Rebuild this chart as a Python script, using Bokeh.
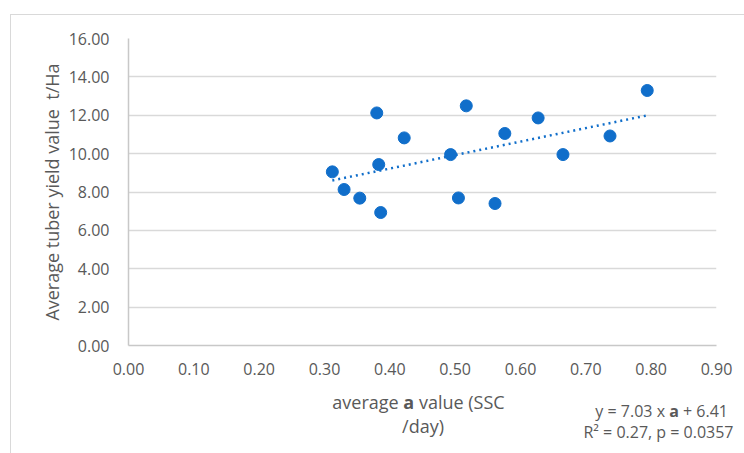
from bokeh.plotting import figure
from bokeh.layouts import column
from bokeh.models import Range1d, FixedTicker, NumeralTickFormatter
from bokeh.core.properties import value
from bokeh.embed import file_html
from bokeh.resources import INLINE

# ---- data ----
a_values = [0.312, 0.330, 0.354, 0.380, 0.383, 0.386, 0.422, 0.493,
            0.505, 0.517, 0.561, 0.576, 0.627, 0.665, 0.737, 0.794]
yield_values = [9.05, 8.13, 7.68, 12.12, 9.43, 6.93, 10.82, 9.95,
                7.69, 12.49, 7.40, 11.05, 11.86, 9.95, 10.92, 13.29]
slope = 7.03
intercept = 6.41
x_ticks = [0.0, 0.1, 0.2, 0.3, 0.4, 0.5, 0.6, 0.7, 0.8, 0.9]
y_ticks = [0, 2, 4, 6, 8, 10, 12, 14, 16]
y_title = "Average tuber yield value\u00a0 t/Ha"
x_title_parts = ["average", "a", "value (SSC", "/day)"]
eq_parts = ["y = 7.03 x", "a", "+ 6.41", "R\u00b2 = 0.27, p = 0.0357"]

FONT = "Open Sans"
GREY = "#595959"
BLUE = "#106ECA"

# ---- main chart ----
p = figure(width=733, height=370, output_backend="svg", toolbar_location=None,
           x_range=Range1d(0, 0.9), y_range=Range1d(0, 16),
           min_border_left=117, min_border_right=28, min_border_top=23,
           min_border_bottom=40)
p.frame_align = False
p.outline_line_color = None
p.background_fill_color = "white"
p.border_fill_color = "white"

for ax in (p.xaxis[0], p.yaxis[0]):
    ax.major_tick_line_color = None
    ax.minor_tick_line_color = None
    ax.axis_line_color = "#C8C8C8"
    ax.axis_line_width = 1.5
    ax.major_label_text_font = FONT
    ax.major_label_text_font_size = "16px"
    ax.major_label_text_color = GREY
    ax.formatter = NumeralTickFormatter(format="0.00")
p.xaxis.ticker = FixedTicker(ticks=x_ticks)
p.yaxis.ticker = FixedTicker(ticks=y_ticks)
p.xaxis.major_label_standoff = 11
p.yaxis.major_label_standoff = 13
p.yaxis.axis_label = y_title
p.yaxis.axis_label_text_font = FONT
p.yaxis.axis_label_text_font_size = "18px"
p.yaxis.axis_label_text_font_style = "normal"
p.yaxis.axis_label_text_color = GREY
p.yaxis.axis_label_standoff = 2

p.xgrid.visible = False
p.ygrid.grid_line_color = "#D9D9D9"
p.ygrid.grid_line_width = 1.5

x0, x1 = min(a_values), max(a_values)
p.line([x0, x1], [slope * x0 + intercept, slope * x1 + intercept],
       line_color=BLUE, line_width=2.5, line_dash="2 4")
p.scatter(a_values, yield_values, size=12, fill_color=BLUE, line_color=BLUE)

# ---- text strip below (coordinates = page pixels) ----
t = figure(width=733, height=68, output_backend="svg", toolbar_location=None,
           x_range=Range1d(11, 744), y_range=Range1d(453, 385),
           x_axis_type=None, y_axis_type=None,
           min_border_left=0, min_border_right=0, min_border_top=0,
           min_border_bottom=0)
t.frame_align = False
t.outline_line_color = None
t.grid.visible = False
t.border_fill_color = "white"
t.background_fill_color = "white"

def txt(px, py, s, align, bold=False, size="18px"):
    t.text(x=[px], y=[py], text=[s], text_align=align, text_baseline="middle",
           text_font=value(FONT), text_font_size=value(size), text_color=GREY,
           text_font_style="bold" if bold else "normal")

txt(398.2, 401.7, x_title_parts[0], "right")
txt(408.3, 401.7, x_title_parts[1], "center", bold=True)
txt(418.4, 401.7, x_title_parts[2], "left")
txt(422.5, 425.7, x_title_parts[3], "center")

txt(664.5, 410.7, eq_parts[0], "right", size="16px")
txt(673.5, 410.7, eq_parts[1], "center", bold=True, size="16px")
txt(682.5, 410.7, eq_parts[2], "left", size="16px")
txt(658.0, 431.7, eq_parts[3], "center", size="16px")

layout = column(p, t, spacing=0,
                styles={"margin-left": "10px", "margin-top": "14px",
                        "border-left": "1px solid #D9D9D9",
                        "border-top": "1px solid #D9D9D9"})

open("out.html", "w").write(file_html(layout, INLINE))
